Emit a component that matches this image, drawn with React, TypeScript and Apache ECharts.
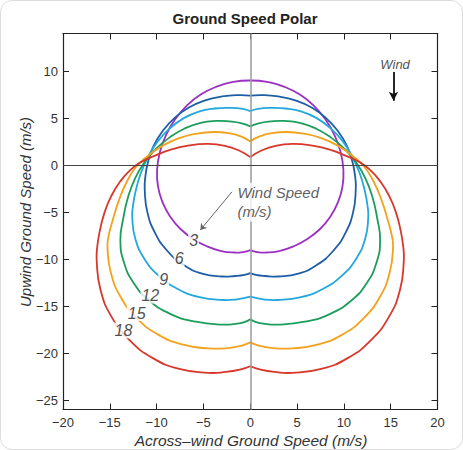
import React, { useEffect, useRef } from "react";
import * as echarts from "echarts";

// Wind speeds (m/s) of the six ground-speed polars
const windSpeeds = [3, 6, 9, 12, 15, 18];
const curveColors = ["#9b30c2", "#1d5ea5", "#22a8de", "#1b9d5b", "#f3a21d", "#d8372b"];

// Left halves (across-wind <= 0): from the top notch at x = 0,
// round the left side, down to the bottom notch at x = 0. The polar is symmetric.
const polar3 = [
  [0, 9.0], [-1.8, 8.85], [-3.6, 8.35], [-5.3, 7.5], [-6.8, 6.3], [-8.0, 4.9], [-9.0, 3.2],
  [-9.65, 1.4], [-9.95, -0.5], [-9.85, -2.3], [-9.35, -4.0], [-8.55, -5.5], [-7.45, -6.8],
  [-6.1, -7.85], [-4.6, -8.65], [-3.1, -9.15], [-1.7, -9.3], [-0.6, -9.22], [0, -9.05],
];
const polar6 = [
  [0, 7.38], [-1.2, 7.45], [-3.0, 7.3], [-4.9, 6.85], [-6.6, 6.1], [-8.1, 5.0], [-9.3, 3.7],
  [-10.3, 2.1], [-10.9, 0.4], [-11.2, -1.2], [-11.27, -2.6], [-10.99, -5.0], [-10.16, -7.23],
  [-8.85, -9.14], [-7.14, -10.61], [-5.14, -11.54], [-3.0, -11.85], [-1.6, -11.8], [-0.6, -11.68],
  [0, -11.49],
];
const polar9 = [
  [0, 5.74], [-0.8, 5.97], [-2.1, 6.08], [-3.8, 6.02], [-5.5, 5.7], [-7.1, 5.0], [-8.6, 3.9],
  [-9.9, 2.5], [-10.9, 0.9], [-11.7, -0.9], [-12.25, -2.8], [-12.52, -4.3], [-12.6, -5.6],
  [-12.27, -7.87], [-11.3, -9.98], [-9.76, -11.79], [-7.75, -13.18], [-5.41, -14.05], [-2.9, -14.35],
  [-1.4, -14.28], [0, -14.0],
];
const polar12 = [
  [0, 4.11], [-0.9, 4.45], [-2.2, 4.65], [-3.6, 4.7], [-5.3, 4.5], [-7.0, 3.9], [-8.6, 2.95],
  [-10.1, 1.7], [-11.3, 0.3], [-12.3, -1.4], [-13.05, -3.4], [-13.55, -5.6], [-13.87, -8.0],
  [-13.5, -10.32], [-12.45, -12.55], [-10.8, -14.4], [-8.5, -15.85], [-5.82, -16.66], [-3.0, -16.97],
  [-1.4, -16.87], [-0.5, -16.65], [0, -16.4],
];
const polar15 = [
  [0, 2.52], [-1.0, 3.05], [-2.3, 3.4], [-3.9, 3.52], [-5.7, 3.35], [-7.5, 2.9], [-9.3, 2.1],
  [-10.9, 1.0], [-12.2, -0.2], [-13.2, -1.8], [-14.05, -3.8], [-14.7, -5.9], [-15.1, -7.4],
  [-15.25, -8.7], [-14.88, -11.48], [-13.81, -14.08], [-12.1, -16.3], [-9.88, -18.01],
  [-7.28, -19.08], [-4.5, -19.5], [-2.2, -19.45], [-0.9, -19.2], [0, -18.86],
];
const polar18 = [
  [0, 0.85], [-1.2, 1.55], [-2.7, 2.05], [-4.5, 2.25], [-6.5, 2.1], [-8.5, 1.65], [-10.3, 0.95],
  [-11.7, 0.3], [-12.8, -0.5], [-13.9, -1.75], [-14.85, -3.3], [-15.55, -5.0], [-16.05, -6.9],
  [-16.33, -8.6], [-16.4, -10.2], [-15.99, -13.28], [-14.81, -16.15], [-12.91, -18.61],
  [-10.45, -20.51], [-7.58, -21.69], [-4.5, -22.1], [-2.6, -22.0], [-1.1, -21.75], [0, -21.4],
];
const polarHalves = [polar3, polar6, polar9, polar12, polar15, polar18];

// Where each wind-speed number sits on its curve (data coordinates)
const curveLabelAnchors = [
  [-6.05, -7.98], [-7.6, -9.97], [-9.25, -12.13], [-10.67, -13.88], [-12.13, -15.74], [-13.55, -17.59],
];

const yTickValues = [-25, -20, -15, -10, -5, 0, 5, 10];

const FONT = "'Liberation Sans', Arial, Helvetica, sans-serif";
const fmt = (v: number) => String(v).replace("-", "\u2212");

export default function App() {
  const ref = useRef<HTMLDivElement>(null);

  useEffect(() => {
    if (!ref.current) return;
    const chart = echarts.init(ref.current, null, { renderer: "svg" });

    // Each half-curve is a custom series; the whole half is drawn once (at its first item)
    // as a smooth polyline through the points, mapped with the axes' scales (api.coord).
    const curveSeries: any[] = [];
    polarHalves.forEach((half, i) => {
      const mirrored = half.map(([x, y]) => [-x, y]);
      [half, mirrored].forEach((d, k) => {
        curveSeries.push({
          type: "custom",
          name: `w${windSpeeds[i]}_${k}`,
          coordinateSystem: "cartesian2d",
          data: d,
          encode: { x: 0, y: 1 },
          silent: true,
          z: 3,
          renderItem: (params: any, api: any) => {
            if (params.dataIndex !== 0) return null;
            return {
              type: "polyline",
              shape: { points: d.map((p) => api.coord(p)), smooth: 0.5 },
              style: { stroke: curveColors[i], lineWidth: 1.8, fill: null, lineJoin: "round" },
            };
          },
        });
      });
    });

    const axisCommon = {
      type: "value",
      splitLine: { show: false },
      axisLine: { show: true, onZero: false, lineStyle: { color: "#222", width: 1.2 } },
      axisTick: { show: true, inside: true, length: 6, lineStyle: { color: "#222", width: 1 } },
    };

    const option: any = {
      animation: false,
      backgroundColor: "transparent",
      grid: { left: 63, right: 25.5, top: 33.5, bottom: 40.5, containLabel: false, outerBoundsMode: "none" },
      xAxis: [
        {
          ...axisCommon,
          min: -20, max: 20, interval: 5,
          position: "bottom",
          axisLabel: { color: "#333", fontSize: 13, fontFamily: FONT, margin: 6, formatter: fmt },
        },
        {
          ...axisCommon,
          min: -20, max: 20, interval: 5,
          position: "top",
          axisLabel: { show: false },
        },
      ],
      yAxis: [
        {
          ...axisCommon,
          min: -26, max: 14,
          position: "left",
          axisTick: { ...axisCommon.axisTick, customValues: yTickValues },
          axisLabel: { color: "#333", fontSize: 13, fontFamily: FONT, margin: 5, formatter: fmt, customValues: yTickValues },
        },
        {
          ...axisCommon,
          min: -26, max: 14,
          position: "right",
          axisTick: { ...axisCommon.axisTick, customValues: yTickValues },
          axisLabel: { show: false, customValues: yTickValues },
        },
      ],
      graphic: [
        {
          type: "text", x: 245, y: 18, z: 10,
          style: { text: "Ground Speed Polar", fontSize: 15, fontWeight: "bold", fontFamily: FONT, fill: "#222", align: "center", verticalAlign: "middle" },
        },
        {
          type: "text", x: 251, y: 440, z: 10,
          style: { text: "Across\u2013wind Ground Speed (m/s)", fontSize: 15.5, fontStyle: "italic", fontFamily: FONT, fill: "#333", align: "center", verticalAlign: "middle" },
        },
        {
          type: "text", x: 25, y: 212, rotation: Math.PI / 2, z: 10,
          style: { text: "Upwind Ground Speed (m/s)", fontSize: 15, fontStyle: "italic", fontFamily: FONT, fill: "#333", align: "center", verticalAlign: "middle" },
        },
      ],
      series: [
        {
          type: "line",
          data: [[0, 0]],
          showSymbol: false,
          symbol: "none",
          silent: true,
          lineStyle: { opacity: 0 },
          z: 1,
          markLine: {
            silent: true,
            symbol: "none",
            label: { show: false },
            animation: false,
            data: [
              { xAxis: 0, lineStyle: { color: "#9a9a9a", width: 1.5, type: "solid" } },
              { yAxis: 0, lineStyle: { color: "#444", width: 1, type: "solid" } },
            ],
          },
        },
        ...curveSeries,
        {
          type: "scatter",
          data: curveLabelAnchors.map((p, i) => ({ value: p, label: { formatter: String(windSpeeds[i]) } })),
          symbolSize: 1,
          silent: true,
          itemStyle: { color: "rgba(0,0,0,0)" },
          z: 6,
          label: {
            show: true,
            position: "inside",
            fontSize: 16,
            fontStyle: "italic",
            fontFamily: FONT,
            color: "#222",
            backgroundColor: "#fff",
            padding: [0, 1],
          },
        },
        {
          type: "scatter",
          data: [[-1.42, -3.94]],
          symbolSize: 1,
          silent: true,
          itemStyle: { color: "rgba(0,0,0,0)" },
          z: 6,
          label: {
            show: true,
            position: "right",
            distance: 0,
            formatter: "Wind Speed\n(m/s)",
            fontSize: 15,
            lineHeight: 19.4,
            fontStyle: "italic",
            fontFamily: FONT,
            color: "#333",
            backgroundColor: "#fff",
            padding: [0, 2, 0, 0],
          },
          markLine: {
            silent: true,
            symbol: ["none", "arrow"],
            symbolSize: 6,
            label: { show: false },
            animation: false,
            lineStyle: { color: "#666", width: 1, type: "solid" },
            data: [[{ coord: [-1.95, -2.84] }, { coord: [-5.33, -6.9] }]],
          },
        },
        {
          type: "scatter",
          data: [[15.47, 10.75]],
          symbolSize: 1,
          silent: true,
          itemStyle: { color: "rgba(0,0,0,0)" },
          z: 6,
          label: {
            show: true,
            position: "inside",
            formatter: "Wind",
            fontSize: 13,
            fontStyle: "italic",
            fontFamily: FONT,
            color: "#222",
          },
          markLine: {
            silent: true,
            symbol: ["none", "arrow"],
            symbolSize: [7, 9],
            label: { show: false },
            animation: false,
            lineStyle: { color: "#111", width: 1.8, type: "solid" },
            data: [[{ coord: [15.3, 9.9] }, { coord: [15.3, 6.85] }]],
          },
        },
      ],
    };

    chart.setOption(option);
    return () => chart.dispose();
  }, []);

  return (
    <div
      style={{
        position: "absolute",
        left: 0,
        top: 0,
        width: 463,
        height: 450,
        boxSizing: "border-box",
        border: "1px solid #dcdcdc",
        borderRadius: 12,
        background: "#fff",
      }}
    >
      <div ref={ref} style={{ position: "absolute", left: -1, top: -1, width: 463, height: 450 }} />
    </div>
  );
}
